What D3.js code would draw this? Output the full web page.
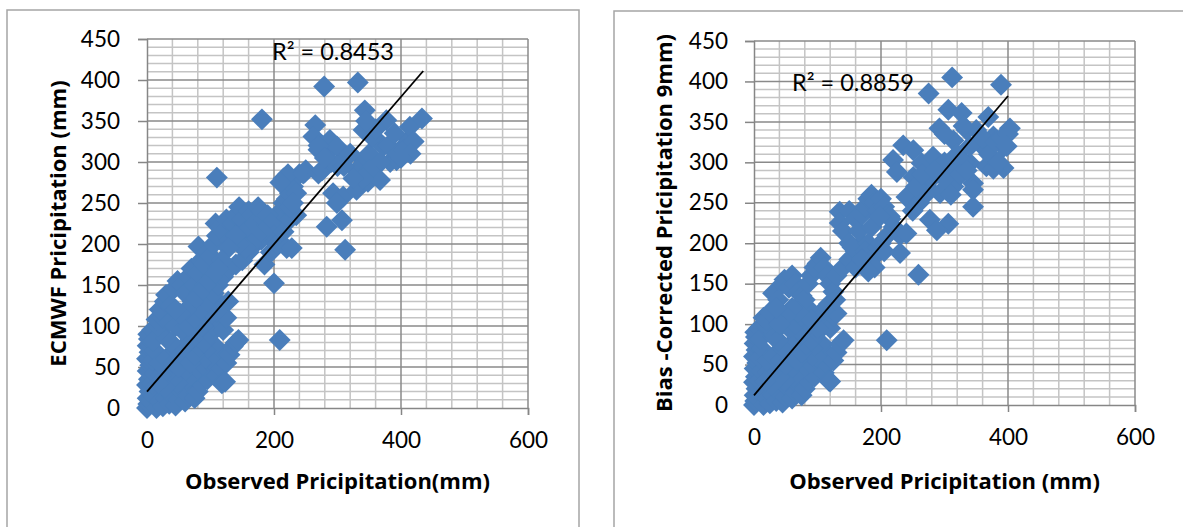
<!DOCTYPE html>
<html>
<head>
<meta charset="utf-8">
<script src="https://cdn.jsdelivr.net/npm/d3@7"></script>
<style>
  body { margin: 0; background: #fff; }
  svg { display: block; }
</style>
</head>
<body>
<svg id="chart" width="1183" height="527"></svg>
<script>
// tick values shared by both panels
const xTicks = [0, 200, 400, 600];
const yTicks = [0, 50, 100, 150, 200, 250, 300, 350, 400, 450];

// observed (x) vs ECMWF (y)
const ecmwfPoints = [
  [0,0],[2,5],[1,12],[4,20],[0,28],[3,35],[1,45],[5,52],[0,60],[4,68],[1,76],[3,84],[2,90],[8,95],
  [6,8],[10,15],[8,30],[12,42],[9,58],[12,70],[10,82],
  [15,0],[20,8],[25,2],[30,12],[35,5],[40,15],[45,3],[50,10],[55,20],[60,8],[65,15],[70,25],[75,12],
  [80,20],[85,30],[90,40],[95,35],[100,45],[105,55],[110,40],[115,50],[118,30],[123,32],[112,65],
  [108,75],[120,60],[125,55],[130,65],[135,75],[140,80],[144,83],[98,60],[92,70],[85,55],[78,45],
  [70,40],[62,35],[55,42],[48,30],[40,35],[35,45],[28,25],[22,40],[18,30],[20,55],[30,60],[42,55],
  [50,50],[60,60],[68,55],[75,65],[82,75],[90,80],[100,90],[105,100],[115,105],[120,95],[125,110],
  [128,130],[118,125],[110,118],[95,110],[88,100],[80,95],[72,85],[65,80],[58,75],[45,70],[38,80],
  [30,85],[22,95],[18,100],[15,108],[25,110],[35,105],[45,100],[55,95],[65,100],[75,110],[85,120],
  [95,130],[105,140],[112,150],[120,160],[130,170],[140,175],[150,180],[160,190],[170,200],[180,205],
  [190,215],[200,220],[205,230],[210,240],[215,250],[220,255],[225,262],[230,270],[240,285],[250,290],
  [20,120],[28,130],[30,138],[38,125],[42,145],[48,155],[55,150],[60,140],[65,160],[70,170],[75,150],
  [80,165],[85,180],[81,197],[90,175],[95,190],[100,185],[105,200],[110,210],[108,225],[115,220],
  [120,215],[125,230],[130,205],[135,225],[140,235],[145,245],[150,230],[155,215],[160,240],[165,235],
  [170,225],[175,245],[180,240],[185,230],[190,235],[195,225],[200,210],[182,215],[172,210],[165,200],
  [155,195],[145,200],[140,210],[128,195],[118,180],[112,170],[102,160],[92,150],[82,140],[72,130],
  [62,120],[52,115],[45,120],[185,175],[195,190],[205,200],[215,215],[225,230],[235,235],[225,245],
  [110,281],[181,352],[200,152],[209,83],[220,195],[228,195],[215,280],[222,285],[210,275],[248,287],
  [235,262],[230,250],[265,345],[262,331],[270,315],[279,392],[332,397],[283,311],[288,327],[299,319],
  [314,306],[341,302],[343,363],[341,339],[362,327],[372,319],[377,351],[383,300],[393,302],[404,319],
  [412,327],[414,343],[433,353],[246,286],[270,286],[293,262],[309,258],[330,266],[348,276],[367,278],
  [299,250],[283,221],[307,229],[312,193],[276,290],[290,300],[300,295],[320,310],[330,290],[350,310],
  [355,330],[360,340],[345,350],[368,300],[380,320],[395,310],[405,315],[420,325],[415,310],[400,305],
  [390,335],[350,290],[340,280],[325,280],[310,295],[270,320],[280,305]
];

// observed (x) vs bias-corrected (y)
const correctedPoints = [
  [0,0],[2,5],[1,12],[4,20],[0,28],[3,35],[1,45],[5,52],[0,60],[4,68],[1,76],[3,84],[2,90],[8,95],
  [6,8],[10,15],[8,30],[12,42],[9,58],[12,70],[10,82],
  [15,0],[20,8],[25,2],[30,12],[35,5],[40,15],[45,3],[50,10],[55,20],[60,8],[65,15],[70,25],[75,12],
  [80,20],[85,30],[90,40],[95,35],[100,45],[105,55],[110,40],[115,50],[118,30],[120,29],[112,65],
  [108,75],[120,60],[125,55],[130,65],[135,75],[141,80],[98,60],[92,70],[85,55],[78,45],
  [70,40],[62,35],[55,42],[48,30],[40,35],[35,45],[28,25],[22,40],[18,30],[20,55],[30,60],[42,55],
  [50,50],[60,60],[68,55],[75,65],[82,75],[90,80],[100,90],[105,100],[115,105],[120,95],[125,110],
  [130,113],[118,125],[110,118],[95,110],[88,100],[80,95],[72,85],[65,80],[58,75],[45,70],[38,80],
  [30,85],[22,95],[18,100],[15,108],[25,110],[35,105],[45,100],[55,95],[65,100],[75,110],[85,120],
  [20,105],[25,115],[30,138],[38,130],[45,150],[48,155],[55,145],[60,160],[65,150],[70,140],[75,135],
  [80,130],[85,150],[90,160],[95,170],[100,175],[105,182],[110,170],[115,160],[120,150],[125,140],
  [128,130],[100,95],[90,105],[70,115],[60,120],[50,110],[40,100],[35,120],[130,160],[140,170],
  [150,180],[160,190],[170,200],[135,239],[135,225],[140,215],[150,240],[150,200],[155,195],[160,230],
  [165,215],[170,235],[175,245],[180,255],[185,260],[190,250],[195,240],[200,255],[205,245],[210,235],
  [215,230],[220,220],[225,215],[230,210],[185,220],[180,200],[175,190],[185,180],[190,170],[180,165],
  [195,195],[200,200],[205,190],[210,210],[214,233],[198,233],[240,212],[230,188],[259,161],[209,80],
  [160,170],[170,180],
  [219,303],[225,288],[235,321],[251,315],[240,257],[251,282],[264,299],[272,270],[282,307],[293,295],
  [293,262],[314,290],[314,270],[275,385],[312,405],[389,396],[306,365],[327,361],[369,356],[292,342],
  [403,342],[335,340],[393,319],[377,332],[356,323],[314,327],[340,299],[366,295],[393,293],[377,292],
  [345,274],[345,245],[345,266],[277,229],[306,224],[288,216],[260,250],[270,260],[280,280],
  [300,300],[320,310],[330,300],[340,320],[350,340],[360,330],[370,310],[380,325],[390,330],[400,335],
  [398,320],[385,300],[300,280],[310,260],[325,285],[335,290],[250,240],[255,270],[265,285],[285,290],
  [300,335],[330,345]
];

// linear trend end points
const ecmwfTrend = [[0, 20], [435, 411]];
const correctedTrend = [[0, 12], [400, 382]];

const ecmwfTitles = {y: "ECMWF Pricipitation (mm)", x: "Observed Pricipitation(mm)", r2: "R\u00B2 = 0.8453"};
const correctedTitles = {y: "Bias -Corrected Pricipitation 9mm)", x: "Observed Pricipitation (mm)", r2: "R\u00B2 = 0.8859"};

const svg = d3.select("#chart");
const FONT = "Lato, 'Open Sans', sans-serif";
const TITLE_FONT = "'Open Sans', Lato, sans-serif";
const BLUE = "#4A7EBB";

function drawPanel(points, trend, titles, lay) {
  const g = svg.append("g");

  g.append("rect")
    .attr("x", lay.box[0]).attr("y", lay.box[1])
    .attr("width", lay.box[2]).attr("height", lay.box[3])
    .attr("fill", "#fff").attr("stroke", "#a5a5a5").attr("stroke-width", 1.5);

  const x = d3.scaleLinear().domain([0, 600]).range([lay.x0, lay.x1]);
  const y = d3.scaleLinear().domain([0, 450]).range([lay.y0, lay.y1]);

  // minor grid
  g.append("g").selectAll("line").data(d3.range(40, 600, 40).filter(v => v % 200 !== 0))
    .join("line")
    .attr("x1", d => x(d)).attr("x2", d => x(d))
    .attr("y1", y(0)).attr("y2", y(450))
    .attr("stroke", "#c4c4c4").attr("stroke-width", 1.5);
  g.append("g").selectAll("line").data(d3.range(10, 450, 10).filter(v => v % 50 !== 0))
    .join("line")
    .attr("x1", x(0)).attr("x2", x(600))
    .attr("y1", d => y(d)).attr("y2", d => y(d))
    .attr("stroke", "#c4c4c4").attr("stroke-width", 1.5);

  // major grid
  g.append("g").selectAll("line").data(xTicks.slice(1))
    .join("line")
    .attr("x1", d => x(d)).attr("x2", d => x(d))
    .attr("y1", y(0)).attr("y2", y(450))
    .attr("stroke", "#8a8a8a").attr("stroke-width", 1.5);
  g.append("g").selectAll("line").data(yTicks.slice(1))
    .join("line")
    .attr("x1", x(0)).attr("x2", x(600))
    .attr("y1", d => y(d)).attr("y2", d => y(d))
    .attr("stroke", "#8a8a8a").attr("stroke-width", 1.5);

  const yAxis = g.append("g")
    .attr("transform", `translate(${lay.x0},0)`)
    .call(d3.axisLeft(y).tickValues(yTicks).tickSize(9).tickPadding(lay.yPad));
  const xAxis = g.append("g")
    .attr("transform", `translate(0,${lay.y0})`)
    .call(d3.axisBottom(x).tickValues(xTicks).tickSize(7).tickPadding(17));

  [yAxis, xAxis].forEach(a => {
    a.attr("font-family", FONT).attr("font-size", 22.5);
    a.select(".domain").attr("stroke", "#868686").attr("stroke-width", 1.5);
    a.selectAll(".tick line").attr("stroke", "#868686").attr("stroke-width", 1.5);
    a.selectAll(".tick text").attr("fill", "#000");
  });

  // markers
  g.append("g").selectAll("path").data(points)
    .join("path")
    .attr("d", d3.symbol(d3.symbolSquare, 240))
    .attr("transform", d => `translate(${x(d[0])},${y(d[1])}) rotate(45)`)
    .attr("fill", BLUE);

  g.append("path")
    .datum(trend)
    .attr("d", d3.line().x(d => x(d[0])).y(d => y(d[1])))
    .attr("stroke", "#000").attr("stroke-width", 1.8).attr("fill", "none");

  g.append("text")
    .attr("x", lay.r2[0]).attr("y", lay.r2[1])
    .attr("font-family", FONT).attr("font-size", 23.5)
    .text(titles.r2);

  g.append("text")
    .attr("x", (lay.x0 + lay.x1) / 2).attr("y", lay.xTitleY)
    .attr("text-anchor", "middle")
    .attr("font-family", TITLE_FONT).attr("font-size", 22).attr("font-weight", "bold")
    .text(titles.x);

  g.append("text")
    .attr("transform", `translate(${lay.yTitleX},${(lay.y0 + lay.y1) / 2}) rotate(-90)`)
    .attr("text-anchor", "middle")
    .attr("font-family", TITLE_FONT).attr("font-size", 22).attr("font-weight", "bold")
    .text(titles.y);
}

drawPanel(ecmwfPoints, ecmwfTrend, ecmwfTitles, {
  box: [7, 10, 572, 560], x0: 147, x1: 528, y0: 408, y1: 39,
  yPad: 18, r2: [272, 60], xTitleY: 489, yTitleX: 66
});
drawPanel(correctedPoints, correctedTrend, correctedTitles, {
  box: [614, 11, 600, 560], x0: 754, x1: 1135, y0: 405, y1: 41,
  yPad: 17, r2: [792, 91], xTitleY: 489, yTitleX: 672
});
</script>
</body>
</html>
